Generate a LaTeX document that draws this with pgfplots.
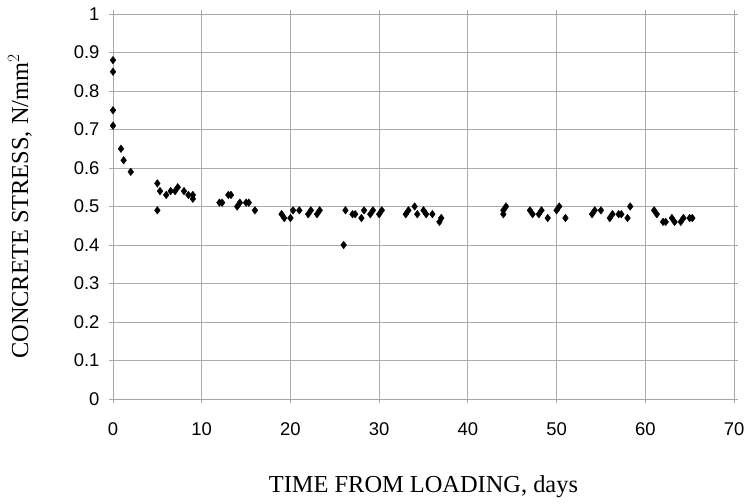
\documentclass[border=0pt]{standalone}
\usepackage{fontspec}
\setmainfont{Liberation Serif}
\newfontfamily\ticksfont{Liberation Sans}
\usepackage{pgfplots}
\pgfplotsset{compat=1.18}

\begin{document}
\begin{tikzpicture}[x=1bp,y=1bp]
% fixed page size 746x504
\path[use as bounding box] (0,0) rectangle (746,504);
\begin{axis}[
  at={(113bp,105bp)}, anchor=south west,
  width=621bp, height=385bp, scale only axis,
  xmin=0, xmax=70, ymin=0, ymax=1,
  xtick={0,10,...,70}, ytick={0,0.1,...,1},
  /pgf/number format/assume math mode=true,
  tick label style={font=\ticksfont\fontsize{18.5}{18.5}\selectfont, black},
  xticklabel style={yshift=-16bp},
  yticklabel style={xshift=-6bp, /pgf/number format/fixed, /pgf/number format/precision=1},
  grid=major, grid style={gray!65, line width=0.8pt},
  axis line style={gray!70, line width=0.8pt},
  tick style={gray!70, line width=0.8pt},
  tick align=outside, major tick length=4bp,
  xlabel={TIME FROM LOADING, days},
  ylabel={CONCRETE STRESS, N/mm$^2$},
  label style={font=\fontsize{24.5}{24.5}\selectfont},
  xlabel style={at={(rel axis cs:0.5,0)}, anchor=base, yshift=-94bp},
  ylabel style={at={(rel axis cs:0,0.5)}, anchor=center, yshift=93bp},
]
\addplot[only marks, mark=diamond*, mark size=3.8bp, black] coordinates {
(0,0.88)(0,0.85)(0,0.75)(0,0.71)
(0.9,0.65)(1.2,0.62)(2,0.59)
(5,0.56)(5,0.49)(5.3,0.54)(6,0.53)(6.5,0.54)(7,0.54)(7.3,0.55)(8,0.54)(8.5,0.53)(9,0.52)(9,0.53)
(12,0.51)(12.3,0.51)(13,0.53)(13.3,0.53)(14,0.50)(14.3,0.51)(15,0.51)(15.3,0.51)(16,0.49)
(19,0.48)(19.3,0.47)(20,0.47)(20.3,0.49)(21,0.49)(22,0.48)(22.3,0.49)(23,0.48)(23.3,0.49)
(26,0.40)(26.2,0.49)(27,0.48)(27.3,0.48)(28,0.47)(28.3,0.49)(29,0.48)(29.3,0.49)(30,0.48)(30.3,0.49)
(33,0.48)(33.3,0.49)(34,0.50)(34.3,0.48)(35,0.49)(35.3,0.48)(36,0.48)(36.8,0.46)(37,0.47)
(44,0.48)(44,0.49)(44.3,0.50)
(47,0.49)(47.3,0.48)(48,0.48)(48.3,0.49)(49,0.47)(50,0.49)(50.3,0.50)(51,0.47)
(54,0.48)(54.3,0.49)(55,0.49)(56,0.47)(56.3,0.48)(57,0.48)(57.3,0.48)(58,0.47)(58.3,0.50)
(61,0.49)(61.3,0.48)(62,0.46)(62.3,0.46)(63,0.47)(63.3,0.46)(64,0.46)(64.3,0.47)(65,0.47)(65.3,0.47)
};
\end{axis}
\end{tikzpicture}
\end{document}
